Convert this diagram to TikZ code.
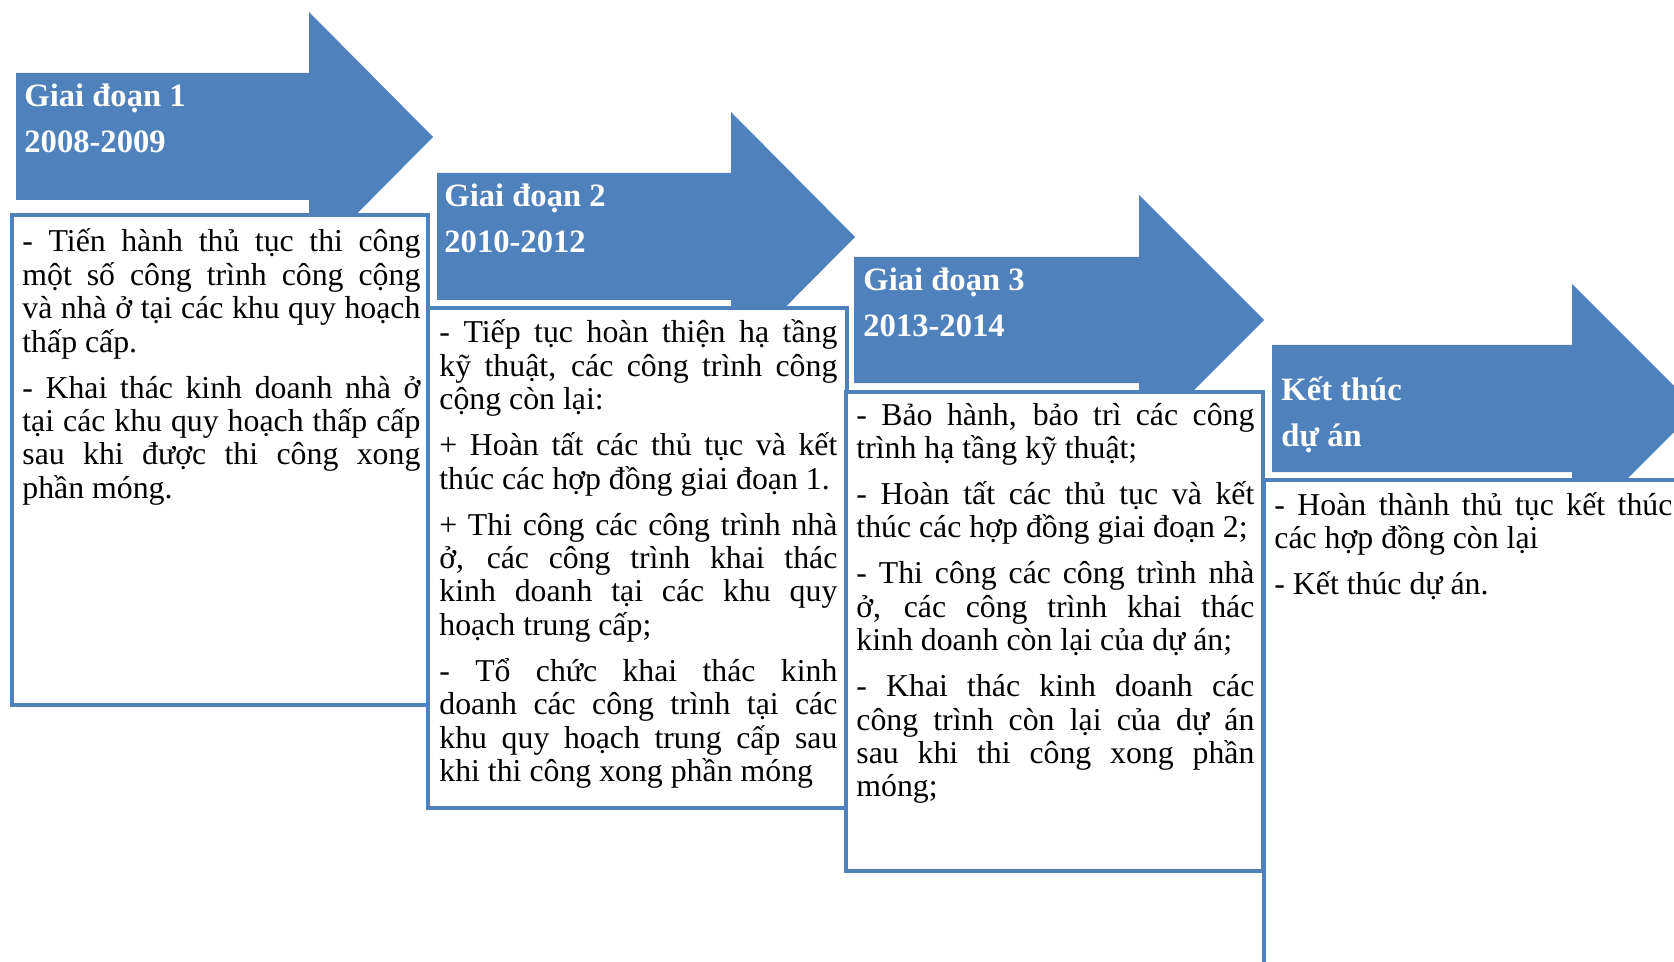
\documentclass[tikz,border=0pt]{standalone}
\usepackage{fontspec}
\setmainfont{Liberation Serif}
\definecolor{ablue}{RGB}{79,129,189}
\newlength{\bw}
\setlength{\bw}{199pt}
\newcommand{\jl}[1]{\makebox[\bw][s]{\spaceskip=0pt\xspaceskip=0pt #1}}
\newcommand{\lastl}[1]{\makebox[\bw][l]{\spaceskip=0pt\xspaceskip=0pt #1}}
\begin{document}
\begin{tikzpicture}[x=0.5pt,y=-0.5pt,
  arrowshape/.style={fill=ablue},
  stagebox/.style={draw=ablue, line width=2pt, fill=white},
  headtxt/.style={text=white, font=\fontsize{16.3}{23}\selectfont\bfseries, align=left, inner sep=0pt, anchor=base west},
  bodytxt/.style={text=black, font=\fontsize{15.9}{16.7}\selectfont, text width=\bw, align=left, inner sep=0pt, anchor=base west}]
\useasboundingbox (0,0) rectangle (1674,962);
\clip (0,0) rectangle (1674,962);
\fill[white] (0,0) rectangle (1674,962);
% ---------- stage 1
\fill[arrowshape] (16,73) -- (309,73) -- (309,12) -- (433,137) -- (309,262) -- (309,200) -- (16,200) -- cycle;
\draw[stagebox] (12,215) rectangle (428,705);
\node[headtxt] (h1) at (24,153) {Giai đoạn 1\\2008-2009};
\node[bodytxt] (t1) at (22,252) {%
\jl{- Tiến hành thủ tục thi công}\\
\jl{một số công trình công cộng}\\
\jl{và nhà ở tại các khu quy hoạch}\\
\lastl{thấp cấp.}\\[6.3pt]
\jl{- Khai thác kinh doanh nhà ở}\\
\jl{tại các khu quy hoạch thấp cấp}\\
\jl{sau khi được thi công xong}\\
\lastl{phần móng.}};
% ---------- stage 2
\fill[arrowshape] (437,173) -- (731,173) -- (731,112) -- (855,237) -- (731,362) -- (731,300) -- (437,300) -- cycle;
\draw[stagebox] (428,308) rectangle (847,808);
\node[headtxt] (h2) at (444,253) {Giai đoạn 2\\2010-2012};
\node[bodytxt] (t2) at (439,343) {%
\jl{- Tiếp tục hoàn thiện hạ tầng}\\
\jl{kỹ thuật, các công trình công}\\
\lastl{cộng còn lại:}\\[6.3pt]
\jl{+ Hoàn tất các thủ tục và kết}\\
\lastl{thúc các hợp đồng giai đoạn 1.}\\[6.3pt]
\jl{+ Thi công các công trình nhà}\\
\jl{ở, các công trình khai thác}\\
\jl{kinh doanh tại các khu quy}\\
\lastl{hoạch trung cấp;}\\[6.3pt]
\jl{- Tổ chức khai thác kinh}\\
\jl{doanh các công trình tại các}\\
\jl{khu quy hoạch trung cấp sau}\\
\lastl{khi thi công xong phần móng}};
% ---------- stage 3
\fill[arrowshape] (854,257) -- (1139,257) -- (1139,195) -- (1264,320) -- (1139,445) -- (1139,383) -- (854,383) -- cycle;
\draw[stagebox] (846,392) rectangle (1263,871);
\node[headtxt] (h3) at (863,336) {Giai đoạn 3\\2013-2014};
\node[bodytxt] (t3) at (856,425) {%
\jl{- Bảo hành, bảo trì các công}\\
\lastl{trình hạ tầng kỹ thuật;}\\[6.3pt]
\jl{- Hoàn tất các thủ tục và kết}\\
\lastl{thúc các hợp đồng giai đoạn 2;}\\[6.3pt]
\jl{- Thi công các công trình nhà}\\
\jl{ở, các công trình khai thác}\\
\lastl{kinh doanh còn lại của dự án;}\\[6.3pt]
\jl{- Khai thác kinh doanh các}\\
\jl{công trình còn lại của dự án}\\
\jl{sau khi thi công xong phần}\\
\lastl{móng;}};
% ---------- stage 4
\fill[arrowshape] (1272,345) -- (1572,345) -- (1572,284) -- (1697,409) -- (1572,534) -- (1572,472) -- (1272,472) -- cycle;
\draw[stagebox] (1264,480) rectangle (1720,1020);
\node[headtxt] (h4) at (1281,446) {Kết thúc\\dự án};
\node[bodytxt] (t4) at (1274,515) {%
\jl{- Hoàn thành thủ tục kết thúc}\\
\lastl{các hợp đồng còn lại}\\[6.3pt]
\lastl{- Kết thúc dự án.}};
\end{tikzpicture}
\end{document}
